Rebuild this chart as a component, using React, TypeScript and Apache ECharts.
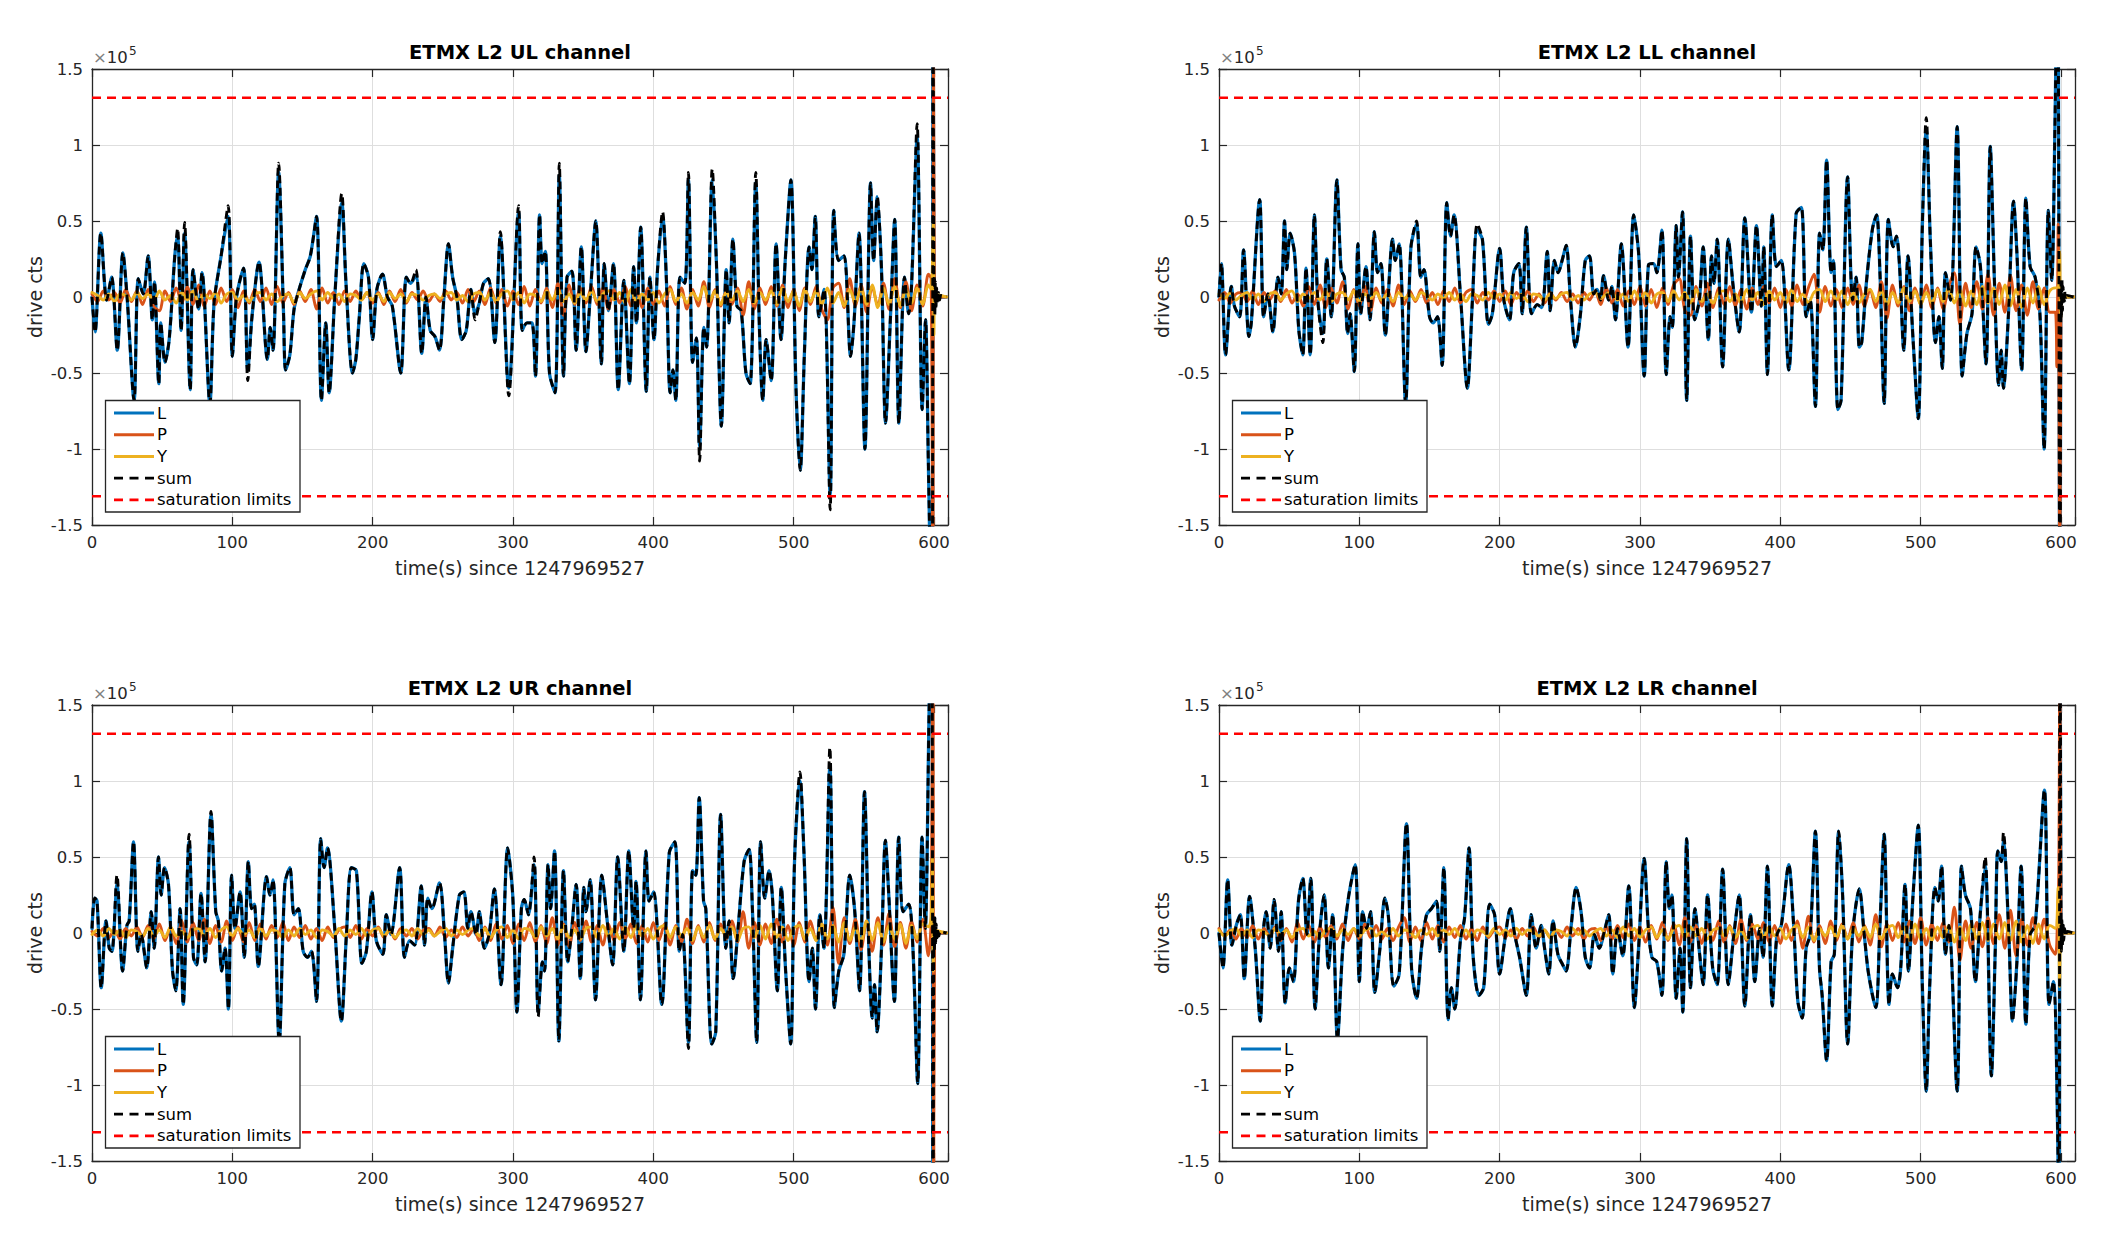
import { useEffect, useRef } from "react";
import * as echarts from "echarts";

// ETMX L2 drive per coil, values in units of 1e5 drive cts, time in s since 1247969527
const SAT = 1.31072; // saturation limit
const STEP = 4; // P and Y read every 4 s from t = 0
const X_MAX = 610;

// L at its turning points: [t, L, sum if it departs from L]
const ulL: number[][] = [
  [0, 0], [2.2, -0.23], [6.3, 0.42], [10.5, -0.02], [14, 0.13], [18, -0.35], [22, 0.29], [25, 0], [30, -0.68], [33, 0.12],
  [36.5, 0.02], [40, 0.27], [43, -0.15], [44.5, 0.1], [47.6, -0.57], [49, -0.17], [52, -0.43], [55, -0.28], [59, 0.27], [61, 0.4, 0.45],
  [63.5, -0.22], [66, 0.42, 0.49], [70, -0.61], [72, 0.18], [76, -0.08], [78.4, 0.16], [84, -0.7], [87, -0.04], [92, 0.27], [97, 0.53, 0.6],
  [100, -0.39], [103, 0], [108, 0.19], [111, -0.48, -0.55], [114, -0.13], [119, 0.23], [125, -0.41], [127, -0.2], [129, -0.35], [133, 0.82, 0.88],
  [136.5, -0.11], [138, -0.48], [141, -0.38], [144, -0.08], [147.6, 0.05], [152, 0.18], [155.6, 0.27], [160, 0.53], [163.5, -0.68], [166.6, -0.17],
  [169, -0.63], [173, 0], [178, 0.62, 0.68], [181, 0.09], [185.7, -0.5], [188, -0.41], [190.5, -0.13], [193.7, 0.22], [197, 0.13], [200, -0.28],
  [203, 0.05], [207, 0.15], [210.5, 0], [214, -0.06], [220, -0.5], [224, 0.13], [227, 0.09], [230.8, 0.14, 0.18], [235, -0.37], [238, 0],
  [241, -0.22], [244.4, -0.26], [247.6, -0.35], [250.8, 0], [254, 0.35], [257, 0.13], [260, 0], [263.5, -0.28], [266.7, -0.22], [270, 0.05],
  [273, -0.11, -0.15], [276, -0.04], [279, 0.09], [282.5, 0.12], [287, -0.3], [291, 0.4, 0.43], [297, -0.6, -0.65], [304, 0.56, 0.6], [306.6, -0.22], [310, -0.17],
  [313.5, -0.17], [316, -0.52], [319, 0.54], [320.8, 0.22], [323, 0.3], [326, -0.5], [330, -0.63], [333, 0.8, 0.88], [336, -0.52], [338.5, 0.13],
  [342, 0.17], [345, -0.35], [348.7, 0.33], [352, -0.36], [355, 0], [359, 0.5], [363, -0.44], [365, 0.22], [368, -0.09], [371.6, 0.22],
  [375, -0.61], [379, 0.11], [383, -0.57], [386, 0.2], [388, -0.17], [391, 0.46], [395, -0.62], [397.6, 0.13], [400.5, -0.28], [403, 0.18],
  [406.6, 0.53, 0.56], [409.5, 0.07], [412, -0.63], [414, -0.48], [416, -0.68], [419, 0.13], [422.5, 0.09], [425, 0.77, 0.82], [428, -0.43], [430.7, -0.27],
  [433, -0.98, -1.08], [436, -0.2], [438, -0.33], [442, 0.77, 0.84], [445, 0.22], [448.5, -0.85], [452, 0.18], [454, -0.17], [456.7, 0.38], [459.6, -0.06],
  [462.6, -0.09], [466, -0.5], [469, -0.57], [473, 0.75, 0.82], [475.6, -0.2], [478, -0.68], [480.4, -0.28], [484, -0.55], [487.5, 0.35], [491, -0.28],
  [494, 0.24], [498, 0.77], [501.7, -0.61], [504.7, -1.14], [507.6, -0.39], [511, 0.33], [513, 0.18], [515.4, 0.53], [518, -0.13], [521.7, 0.05],
  [526, -1.3, -1.4], [528.6, 0.57], [532, 0.24], [535.9, 0.27], [540.6, -0.39], [543, -0.17], [546.6, 0.42], [550.8, -1.0], [554.8, 0.75], [557, 0.24],
  [559.6, 0.66], [562.6, 0.18], [565.5, -0.83], [569, -0.13], [572, 0.51], [575, -0.83], [579, 0.13], [582, -0.11], [584, 0.07], [588, 1.05, 1.14],
  [591.6, -0.74], [594, -0.15], [596, -1.09], [598.6, -2.4], [599.3, 2.4], [600, 0.02, 0.1],
  [600.3, 0, 0.14], [600.6, 0, -0.12], [601, 0, 0.1], [601.4, 0, -0.08], [601.9, 0, 0.06], [602.5, 0, -0.04], [603.2, 0, 0.03], [604, 0, -0.02], [605, 0, 0.01], [609, 0],
];

const llL: number[][] = [
  [0, 0], [1.7, 0.22], [4.7, -0.38], [8.8, 0.07], [11, -0.06], [14.7, -0.13], [17.5, 0.31], [21.3, -0.26], [23, -0.17], [29, 0.64],
  [31.8, -0.13], [34.8, 0.02], [38.4, -0.23], [42, 0.13], [44.3, 0.02], [46.7, 0.5], [48.3, 0.18], [50.7, 0.42], [53.8, 0.29], [56.9, -0.22],
  [59.7, -0.38], [62, 0.19], [65, -0.38], [68, 0.54], [70.4, -0.02], [74, -0.24, -0.3], [76.8, 0.25], [80, -0.13], [84, 0.77], [87, 0.18],
  [89.3, 0.13], [91.7, -0.24], [93.4, -0.11], [96.4, -0.49], [99, 0.35], [101, -0.11], [104.7, 0.2], [107.6, -0.15], [110.7, 0.43], [113, 0.16],
  [115.4, 0.22], [118.5, -0.25], [123.7, 0.38], [125.6, 0.24], [128.4, 0.35], [133, -0.7], [136.7, 0.32], [140.8, 0.48, 0.5], [143.8, 0.13], [146, 0.18],
  [150, -0.13], [152.6, -0.17], [155.7, -0.13], [159, -0.45], [162.3, 0.62], [165, 0.4], [167.5, 0.54], [172, 0.02], [177, -0.6], [180.6, -0.02],
  [184, 0.44, 0.48], [187.7, 0.38], [192, -0.18], [194.8, -0.11], [200, 0.32], [203, -0.02], [207, -0.15], [210, 0.16], [213.7, 0.22], [216, -0.11],
  [219, 0.46], [222.7, -0.11], [226.8, -0.05], [230, -0.07], [233.9, 0.3], [236, -0.09], [239, 0.24], [241.7, 0.16], [244.5, 0.24], [247.4, 0.34],
  [250.5, -0.02], [254, -0.33], [257.6, -0.11], [261, 0.24], [264, 0.27], [267, 0.02], [269.4, 0.05], [271.8, -0.02], [274, 0.14], [277.7, -0.02],
  [280, 0.07], [282.5, -0.15], [286.7, 0.35], [291.5, -0.33], [295.5, 0.54], [299, 0.29], [303, -0.52], [306, 0.21], [309.7, 0.22], [312, 0.16],
  [315.6, 0.44], [318.7, -0.51], [321.5, -0.13], [323, -0.2], [325.8, 0.47], [327.4, 0.13], [330.3, 0.56], [333.3, -0.68], [336, 0.4], [339, -0.15],
  [342.3, -0.02], [345, 0.33], [348.7, -0.28], [351, 0.27], [352.7, 0.09], [355, 0.38], [358.9, -0.46], [363, 0.38], [366.4, 0.07], [370.7, -0.23],
  [374.7, 0.52], [379.4, -0.1], [383, 0.47], [386.5, -0.06], [388.2, 0.33], [390.8, -0.51], [394.3, 0.54], [397.2, 0.2], [400.7, 0.24], [406, -0.48],
  [411.3, 0.55], [415, 0.59], [418.4, -0.13], [421.3, -0.02], [425, -0.72], [428, 0.42], [430.3, 0.31], [433, 0.9], [436.2, 0.16], [437.8, 0.24],
  [441, -0.74], [443.3, -0.68], [448, 0.79], [451.5, -0.02], [454, 0.13], [456.3, -0.33], [458, -0.3], [461.5, 0.11], [465.7, 0.45], [468.6, 0.54],
  [471, 0.16], [474, -0.7], [477, 0.51], [480.4, 0.33], [482.7, 0.4], [485, 0.2], [488, -0.35], [491, 0.27], [494.6, -0.28], [498.3, -0.8],
  [501.2, 0.46], [504, 1.1, 1.18], [507, 0.35], [510.6, -0.3], [513, -0.13], [515.4, -0.47], [517.7, 0.16], [521.3, -0.02], [526, 1.12], [529.6, -0.52],
  [533, -0.24], [536.6, -0.11], [539.5, 0.33], [542.6, 0.2], [546.6, -0.44], [549.6, 0.99], [552.7, 0.07], [555.6, -0.58], [557.4, -0.35], [559, -0.6],
  [562.6, -0.11], [566.2, 0.63], [568.6, 0.29], [572, -0.48], [575, 0.65], [578, 0.2], [581.6, 0.13], [585, -0.11], [588, -1.0], [591, 0.57],
  [593.4, 0.11], [595.7, 1.12], [597.6, 2.4], [599.3, -2.4], [600, 0.02, 0.1],
  [600.3, 0, -0.13], [600.7, 0, 0.11], [601.1, 0, -0.09], [601.5, 0, 0.07], [602, 0, -0.05], [602.6, 0, 0.04], [603.3, 0, -0.02], [604.2, 0, 0.01], [609, 0],
];

const urL: number[][] = [
  [0, 0.03], [1.9, 0.23], [3.6, 0.21], [6.6, -0.36], [10, 0.08], [12.3, -0.1], [14.2, -0.12], [17.8, 0.32, 0.38], [21.8, -0.25], [24.9, 0.05],
  [26.5, 0.08], [29.6, 0.6], [32.7, -0.12], [35, -0.01], [39, -0.23], [42.2, 0.14], [44.3, -0.1], [47.4, 0.5], [49.3, 0.25], [51.7, 0.43],
  [54.5, 0.32], [57.3, -0.24], [59.7, -0.38], [62.8, 0.16], [65, -0.47], [69.2, 0.6, 0.65], [72.3, -0.16], [74.6, -0.21], [77.7, 0.26], [80.6, -0.19],
  [84.8, 0.78, 0.8], [88.2, 0.14], [90, 0.08], [92.4, -0.25], [94.8, -0.1], [97.2, -0.5], [99.5, 0.38], [101.9, 0.03], [105.5, 0.27], [108.5, -0.16],
  [111.4, 0.47], [113.7, 0.16], [115.6, 0.19], [118.5, -0.22], [124.4, 0.37], [126.8, 0.25], [129, 0.35], [133.4, -0.72], [137.4, 0.32], [141, 0.43],
  [144, 0.12], [147, 0.16], [150.5, -0.12], [153.6, -0.16], [156.4, -0.12], [160, -0.45], [163, 0.62], [165.4, 0.43], [167.8, 0.56], [173, 0.03],
  [177.7, -0.58], [181.3, -0.01], [184.8, 0.43], [188.4, 0.41], [192.4, -0.2], [195.5, -0.12], [199.5, 0.27], [202.6, -0.05], [207.3, -0.14], [209.7, 0.12],
  [213, -0.01], [219.2, 0.43], [222.7, -0.16], [226.3, -0.05], [229.9, -0.08], [234.6, 0.31], [237, -0.08], [239.3, 0.23], [242.2, 0.16], [247.6, 0.33],
  [251.2, -0.01], [254, -0.33], [257, -0.1], [261.8, 0.25], [265, 0.27], [267.8, 0.03], [270, 0.14], [273.7, -0.01], [276, 0.14], [279.6, -0.1],
  [283, -0.01], [286.7, 0.29], [291.5, -0.34], [296.2, 0.56], [299.8, 0.25], [302.8, -0.52], [306, 0.16], [308, 0.22], [311, 0.12], [315, 0.45, 0.5],
  [318, -0.52, -0.55], [321, -0.19], [322.5, -0.25], [325, 0.45], [326.8, 0.16], [329.6, 0.54], [332.7, -0.71], [336, 0.41], [339, -0.19], [341.5, -0.01],
  [345, 0.32], [348, -0.3], [350.5, 0.3], [352, 0.14], [355, 0.35], [358.8, -0.44], [363.3, 0.38], [367.5, 0.05], [371, -0.21], [374.6, 0.5],
  [379, -0.12], [382.5, 0.54], [386, 0.03], [387.7, 0.34], [390.8, -0.44], [394.8, 0.54], [397, 0.21], [400.2, 0.27], [406, -0.47], [411.4, 0.53],
  [415.4, 0.6], [418.5, -0.12], [420.8, -0.01], [425, -0.72, -0.76], [428, 0.41], [430.3, 0.38], [432.7, 0.89], [435.8, 0.21], [437.4, 0.16], [441.7, -0.73],
  [444.5, -0.65], [448, 0.78], [451.7, -0.1], [454, 0.08], [456.9, -0.3], [460.4, 0.03], [464.7, 0.47], [468.2, 0.55], [470.6, 0.16], [473.7, -0.72],
  [476.5, 0.6], [479.4, 0.23], [482.5, 0.41], [484.8, 0.25], [488.4, -0.38], [491.2, 0.3], [494.3, -0.25], [497.9, -0.73], [500.7, 0.49], [504.5, 1.0, 1.06],
  [507.3, 0.54], [511, -0.32], [513.3, -0.1], [515.6, -0.5], [518.7, 0.12], [521.6, -0.1], [525.8, 1.1, 1.22], [529, -0.49], [532.2, -0.25], [535.8, -0.14],
  [540, 0.38], [543.4, 0.16], [547, -0.38], [550.5, 0.93], [553.6, -0.1], [556, -0.56], [557.6, -0.34], [559.5, -0.65], [562.6, -0.1], [565.4, 0.61],
  [567.8, 0.25], [571.8, -0.45], [574.9, 0.63], [578, 0.14], [582, 0.19], [585, -0.1], [588.4, -0.99], [591.5, 0.63], [593.8, 0.03], [596.5, 1.45],
  [598.4, 2.4], [599.3, -2.4], [600, 0.02, 0.1],
  [600.3, 0, -0.12], [600.7, 0, 0.1], [601.1, 0, -0.08], [601.6, 0, 0.06], [602.1, 0, -0.05], [602.7, 0, 0.03], [603.5, 0, -0.02], [604.5, 0, 0.01], [609, 0],
];

const lrL: number[][] = [
  [0, 0], [2.8, -0.23], [6.2, 0.35], [9.2, -0.08], [12.3, 0.05], [15.2, 0.12], [18, -0.3], [21.8, 0.24], [25.8, -0.1], [29.4, -0.58],
  [31.8, 0.03], [33.6, 0.14], [36.5, -0.1], [39.3, 0.22], [42.4, -0.12], [44.3, 0.14], [47.2, -0.46], [50.2, -0.23], [53, -0.32], [56.6, 0.21],
  [59.7, 0.36], [62.6, -0.01], [65.4, 0.36], [68.5, -0.5], [71.6, -0.01], [74.9, 0.25], [78, -0.23], [81, 0.12], [84.4, -0.7], [88.2, -0.1],
  [92.2, 0.23], [97, 0.45], [100, -0.32], [102.4, 0.14], [105.2, 0.03], [108, 0.14], [111, -0.39], [114.7, -0.1], [118.2, 0.23], [120.6, 0.12],
  [124.6, -0.35], [128.4, -0.27], [133.6, 0.72], [137.2, -0.23], [140.8, -0.43], [144.3, -0.1], [147.9, 0.12], [151.4, 0.16], [155, 0.21], [157.3, -0.12],
  [160.2, 0.43], [163.3, -0.57], [165.6, -0.36], [168, -0.5], [172, -0.05], [175, 0.1], [178.2, 0.56], [181, -0.14], [185.3, -0.41], [188.6, -0.36],
  [192.9, 0.19], [196.4, 0.12], [200, -0.27], [203.6, -0.05], [207.6, 0.16], [210.7, -0.01], [214.2, -0.16], [219, -0.41], [222.5, 0.12], [226, -0.1],
  [229.6, 0.05], [232, -0.1], [235, -0.27], [238, 0.08], [241.5, -0.14], [245, -0.21], [247.4, -0.25], [251, 0.05], [254.5, 0.3], [258, 0.14],
  [261, -0.16], [264, -0.23], [267.5, -0.01], [271, -0.1], [274.6, 0.01], [277.7, 0.12], [280.6, -0.27], [284, 0.03], [287.7, -0.15], [292, 0.31],
  [296, -0.49], [299, -0.1], [303, 0.49], [306, 0.03], [308.5, -0.16], [312, -0.19], [315.6, -0.41], [318.7, 0.47], [321, 0.16], [322.7, 0.25],
  [325.8, -0.43], [328.6, -0.1], [330.5, -0.52], [333.3, 0.62], [336, -0.36], [339.2, 0.16], [342.3, -0.12], [345, -0.34], [348.2, 0.25], [351.8, -0.23],
  [355, -0.34], [358.9, 0.42], [362.9, -0.34], [366.9, -0.01], [370.7, 0.25], [374.7, -0.48], [378.7, 0.12], [381.8, -0.32], [385.3, 0.03], [387.7, -0.16],
  [390.8, 0.44], [394.3, -0.48], [397.6, -0.01], [400.7, 0.05], [406, 0.45], [409.5, 0.05], [412.5, -0.45], [415.6, -0.56], [418.4, -0.1], [421.3, -0.01],
  [425, 0.67], [427.9, -0.23], [429.8, -0.41], [433, -0.84], [436.2, -0.19], [438.5, -0.14], [441.6, 0.67], [444.4, 0.25], [448, -0.73], [451.5, -0.01],
  [456.3, 0.29], [459.8, -0.01], [462.9, -0.27], [468, -0.49], [470.9, 0.03], [474, 0.65], [477.5, -0.47], [479.9, -0.27], [483.5, -0.36], [485.8, -0.23],
  [488.9, 0.32], [491.3, -0.25], [494.6, 0.25], [498.3, 0.71], [501.2, -0.34], [504, -1.04], [506.4, -0.36], [510.2, 0.3], [512.5, 0.21], [514.9, 0.44],
  [517.7, -0.14], [520.1, 0.05], [526, -1.04], [529.1, 0.44], [531.9, 0.25], [535.5, 0.16], [539, -0.32], [542.6, 0.14], [546, 0.44, 0.5], [550.4, -0.94],
  [553.2, -0.1], [555, 0.54], [557.4, 0.47], [559, 0.6, 0.66], [562.6, 0.05], [565.5, -0.58], [568.6, -0.19], [571.6, 0.44], [575, -0.6], [578, -0.01],
  [581.6, 0.05], [588.2, 0.94], [591.5, -0.47], [594.6, -0.32], [597.6, -1.28], [598.6, -2.4], [599.3, 2.4], [600, 0.02, 0.1],
  [600.3, 0, -0.12], [600.6, 0, 0.1], [601, 0, -0.08], [601.5, 0, 0.07], [602, 0, -0.05], [602.6, 0, 0.03], [603.4, 0, -0.02], [604.4, 0, 0.01], [609, 0],
];

// P and Y, one value every STEP seconds from t = 0 to 596
const ulP = [
  0.02, -0.03, 0.04, -0.02, 0.03, -0.04, 0.05, -0.03, 0.04, -0.05,
  0.05, -0.06, -0.09, 0.04, -0.03, 0.06, -0.04, 0.07, -0.05, 0.08,
  -0.06, 0.04, -0.05, 0.06, -0.03, 0.05, -0.07, 0.04, -0.04, 0.05,
  -0.03, 0.06, -0.05, 0.07, -0.04, 0.03, -0.05, 0.04, -0.03, 0.05,
  -0.08, 0.06, -0.04, 0.03, -0.05, 0.04, -0.03, 0.04, -0.02, 0.03,
  -0.04, 0.03, -0.05, 0.04, -0.03, 0.05, -0.04, 0.03, -0.02, 0.04,
  -0.03, 0.02, -0.03, 0.04, -0.02, 0.03, -0.04, 0.05, -0.03, 0.04,
  -0.05, 0.06, -0.04, 0.05, -0.06, 0.04, -0.05, 0.07, -0.06, 0.05,
  -0.04, 0.06, -0.07, 0.09, -0.12, 0.08, -0.05, 0.06, -0.04, 0.07,
  -0.05, 0.06, -0.08, 0.05, -0.04, 0.07, -0.06, 0.05, -0.07, 0.06,
  -0.05, 0.04, -0.06, 0.07, -0.05, 0.06, -0.08, 0.05, -0.06, 0.1,
  -0.07, 0.05, -0.06, 0.04, -0.05, 0.06, -0.12, 0.1, -0.08, 0.06,
  -0.05, 0.07, -0.06, 0.08, -0.07, 0.05, -0.09, 0.06, -0.05, 0.07,
  -0.08, -0.15, 0.06, 0.09, -0.07, 0.12, -0.06, 0.08, -0.1, 0.07,
  -0.06, 0.09, -0.08, 0.12, -0.07, 0.1, -0.09, 0.08, -0.06, 0.15,
];
const ulY = [
  0.03, 0.01, -0.02, 0.02, -0.03, 0.02, 0.01, -0.02, 0.03, -0.01,
  0.02, -0.03, 0.04, -0.02, 0.01, -0.04, 0.03, -0.02, 0.04, -0.03,
  0.02, -0.01, 0.03, -0.04, 0.02, 0.03, -0.02, 0.01, -0.03, 0.02,
  0.03, -0.02, 0.02, -0.03, 0.01, 0.02, -0.04, 0.03, -0.01, 0.02,
  0.04, -0.02, 0.03, -0.01, 0.02, -0.03, 0.02, 0.01, -0.02, 0.03,
  -0.02, 0.02, -0.03, 0.03, -0.01, 0.02, -0.03, 0.02, 0.01, -0.02,
  0.01, 0.02, -0.01, 0.02, 0.03, -0.02, 0.01, -0.03, 0.02, 0.03,
  -0.02, 0.03, -0.03, 0.02, 0.04, -0.02, 0.03, -0.04, 0.02, 0.01,
  -0.03, 0.04, -0.02, 0.05, -0.03, 0.02, -0.04, 0.03, -0.02, 0.04,
  -0.03, 0.02, 0.04, -0.02, 0.03, -0.04, 0.05, -0.03, 0.02, -0.02,
  0.03, -0.04, 0.02, 0.05, -0.03, 0.02, -0.04, 0.03, -0.02, 0.07,
  -0.03, 0.04, -0.05, 0.03, -0.02, 0.04, -0.03, 0.05, -0.04, 0.03,
  -0.02, 0.04, -0.05, 0.06, -0.03, 0.04, -0.06, 0.05, -0.03, 0.04,
  -0.05, 0.06, -0.04, 0.03, -0.06, 0.05, -0.04, 0.06, -0.05, 0.08,
  -0.07, 0.06, -0.05, 0.07, -0.06, 0.05, -0.04, 0.06, -0.05, 0.08,
];
const ulPTail = [[598, 0.12], [599.2, -2.4], [599.7, 2.4], [600.3, 0], [609, 0]];
const ulYTail = [[598, 0.05], [599.5, 0.5], [600, -0.25], [600.6, 0.02], [609, 0]];

const llP = [
  -0.02, 0.03, -0.04, 0.02, 0.03, -0.03, 0.04, -0.05, 0.03, -0.02,
  0.04, -0.03, 0.05, -0.04, 0.02, -0.06, 0.07, -0.05, 0.08, -0.07,
  0.06, -0.04, 0.1, -0.08, 0.05, -0.06, 0.07, -0.09, 0.06, -0.04,
  0.05, -0.06, 0.08, -0.05, 0.04, -0.03, 0.05, -0.04, 0.03, -0.05,
  0.04, -0.03, 0.06, -0.04, 0.03, 0.05, -0.04, 0.03, -0.02, 0.04,
  -0.03, 0.04, -0.05, 0.03, -0.02, 0.04, -0.03, 0.02, -0.04, 0.03,
  -0.02, 0.03, -0.03, 0.02, -0.04, 0.03, -0.02, 0.04, -0.05, 0.06,
  -0.04, 0.05, -0.06, 0.04, -0.05, 0.07, -0.06, 0.05, -0.07, 0.06,
  -0.05, 0.08, 0.12, -0.09, -0.12, 0.07, -0.06, 0.09, -0.07, 0.06,
  -0.05, 0.07, -0.06, 0.05, -0.08, 0.06, -0.05, 0.07, -0.04, 0.06,
  -0.07, 0.05, -0.06, 0.08, -0.05, 0.06, 0.15, -0.1, 0.07, -0.06,
  0.05, -0.07, 0.06, -0.05, 0.08, -0.06, 0.05, -0.07, 0.1, -0.14,
  0.08, -0.06, 0.07, -0.09, 0.06, -0.05, 0.08, -0.07, 0.06, -0.08,
  0.07, 0.16, -0.18, 0.09, -0.07, 0.1, -0.08, 0.15, -0.12, 0.09,
  -0.1, 0.14, -0.09, 0.08, -0.12, 0.1, -0.08, 0.06, -0.1, -0.1,
];
const llY = [
  0.02, -0.01, 0.03, -0.02, 0.01, 0.03, -0.02, 0.02, -0.03, 0.02,
  0.03, -0.02, 0.02, 0.04, -0.03, 0.02, -0.01, 0.03, -0.02, 0.04,
  -0.03, 0.02, 0.03, -0.02, 0.04, -0.03, 0.02, -0.01, 0.03, -0.02,
  0.02, -0.03, 0.03, -0.01, 0.02, -0.02, 0.03, 0.01, -0.02, 0.02,
  -0.01, 0.03, -0.02, 0.02, -0.03, 0.02, 0.01, -0.02, 0.03, -0.01,
  0.02, -0.02, 0.03, -0.01, 0.02, -0.03, 0.02, 0.01, -0.02, 0.02,
  -0.01, 0.02, 0.03, -0.02, 0.01, -0.02, 0.02, 0.03, -0.01, 0.02,
  0.03, -0.02, 0.02, -0.03, 0.04, -0.02, 0.03, -0.04, 0.02, 0.03,
  -0.03, 0.04, -0.02, 0.03, -0.04, 0.05, -0.03, 0.02, -0.04, 0.03,
  0.04, -0.03, 0.02, -0.04, 0.05, -0.02, 0.03, -0.05, 0.04, -0.02,
  0.03, -0.04, 0.05, -0.03, 0.02, -0.04, 0.03, 0.05, -0.03, 0.04,
  -0.02, 0.04, -0.05, 0.03, -0.04, 0.02, 0.05, -0.03, 0.04, -0.05,
  0.03, -0.04, 0.06, -0.03, 0.04, -0.05, 0.03, -0.04, 0.05, -0.03,
  0.06, -0.04, 0.05, -0.06, 0.04, -0.05, 0.07, -0.04, 0.06, -0.05,
  0.08, -0.06, 0.05, -0.07, 0.06, -0.04, 0.07, -0.05, 0.04, 0.06,
];
const llPTail = [[597, -0.46], [598, 0.48], [599.3, -2.4], [600, 0], [609, 0]];
const llYTail = [[598, 0.06], [599, 0.3], [599.8, -0.15], [600.5, 0], [609, 0]];

const urP = [
  0.01, -0.02, 0.03, -0.03, 0.02, -0.04, 0.03, -0.02, 0.04, -0.03,
  0.05, -0.04, 0.06, -0.05, 0.04, -0.07, 0.08, -0.06, 0.07, -0.05,
  0.09, -0.07, 0.05, -0.06, 0.08, -0.05, 0.04, -0.06, 0.07, -0.05,
  0.06, -0.04, 0.05, -0.03, 0.07, -0.05, 0.04, -0.03, 0.05, -0.04,
  0.03, -0.05, 0.04, -0.03, 0.02, 0.04, -0.03, 0.05, -0.04, 0.03,
  -0.02, 0.04, -0.03, 0.02, -0.04, 0.03, -0.02, 0.03, -0.04, 0.02,
  0.03, -0.02, 0.04, -0.03, 0.02, -0.03, 0.04, -0.02, 0.03, -0.05,
  0.04, -0.05, 0.06, -0.04, 0.05, -0.07, 0.06, -0.05, 0.07, -0.06,
  0.05, -0.07, 0.1, -0.08, 0.06, -0.09, 0.07, -0.05, 0.08, -0.06,
  0.05, -0.08, 0.06, -0.05, 0.07, -0.04, 0.06, -0.07, 0.05, -0.06,
  0.07, -0.05, 0.06, -0.08, 0.05, -0.06, 0.09, -0.07, 0.05, -0.06,
  0.07, -0.05, 0.06, -0.04, 0.08, -0.06, 0.14, -0.1, 0.07, -0.08,
  0.06, -0.07, 0.09, -0.06, 0.05, -0.08, 0.07, -0.06, 0.08, -0.05,
  0.06, -0.08, 0.17, -0.2, 0.1, -0.07, 0.09, -0.11, 0.08, -0.12,
  0.1, -0.08, 0.13, -0.09, 0.07, -0.1, 0.08, -0.06, 0.09, -0.15,
];
const urY = [
  -0.01, 0.02, -0.02, 0.03, -0.01, 0.02, -0.03, 0.02, 0.01, -0.02,
  0.03, -0.02, 0.02, -0.03, 0.04, -0.02, 0.01, -0.03, 0.02, 0.03,
  -0.02, 0.03, -0.03, 0.02, 0.04, -0.02, 0.03, -0.01, 0.02, -0.03,
  0.03, -0.02, 0.02, 0.01, -0.03, 0.02, -0.02, 0.03, -0.01, 0.02,
  -0.03, 0.02, 0.01, -0.02, 0.03, -0.02, 0.02, -0.01, 0.03, -0.02,
  0.02, 0.03, -0.02, 0.02, -0.03, 0.01, 0.02, -0.02, 0.03, -0.01,
  0.02, -0.02, 0.01, 0.03, -0.02, 0.02, -0.01, 0.02, 0.03, -0.02,
  0.03, -0.03, 0.02, 0.04, -0.03, 0.02, -0.04, 0.03, 0.02, -0.03,
  0.04, -0.02, 0.03, -0.04, 0.05, -0.03, 0.02, -0.04, 0.03, 0.04,
  -0.03, 0.05, -0.02, 0.03, -0.04, 0.04, -0.03, 0.05, -0.02, 0.03,
  -0.04, 0.03, 0.05, -0.03, 0.04, -0.02, 0.03, -0.05, 0.04, -0.03,
  0.05, -0.04, 0.03, -0.02, 0.04, -0.05, 0.03, 0.04, -0.03, 0.05,
  -0.04, 0.06, -0.03, 0.04, -0.05, 0.03, 0.05, -0.04, 0.03, -0.05,
  0.06, -0.04, 0.05, -0.06, 0.07, -0.05, 0.04, -0.06, 0.08, -0.05,
  0.07, -0.06, 0.05, -0.04, 0.06, -0.07, 0.05, -0.04, 0.06, 0.04,
];
const urPTail = [[598, 0.1], [599.2, 2.4], [599.8, -2.4], [600.4, 0], [609, 0]];
const urYTail = [[598, 0.1], [598.8, 0.5], [599.5, -0.25], [600.2, 0.02], [609, 0]];

const lrP = [
  0.03, -0.02, 0.02, -0.04, 0.03, -0.03, 0.05, -0.04, 0.03, -0.02,
  0.04, -0.05, 0.03, -0.06, 0.07, -0.04, 0.05, -0.06, 0.04, -0.03,
  0.05, -0.04, 0.06, -0.05, 0.03, -0.04, 0.06, -0.03, 0.05, -0.04,
  0.03, -0.05, 0.04, 0.1, -0.06, 0.04, -0.05, 0.07, -0.04, 0.05,
  -0.06, 0.04, -0.03, 0.05, -0.04, 0.03, -0.05, 0.04, -0.03, 0.02,
  0.04, -0.03, 0.02, -0.04, 0.03, -0.02, 0.04, -0.03, 0.02, -0.03,
  0.02, -0.03, 0.04, -0.02, 0.03, -0.04, 0.02, 0.03, -0.05, 0.04,
  -0.04, 0.05, -0.03, 0.06, -0.05, 0.04, -0.06, 0.05, -0.04, 0.07,
  -0.05, 0.06, -0.08, 0.1, -0.06, 0.05, -0.07, 0.06, -0.05, 0.08,
  -0.06, 0.05, -0.07, 0.09, -0.05, 0.06, -0.04, 0.07, -0.06, 0.05,
  -0.07, 0.06, -0.05, 0.08, -0.1, 0.11, -0.06, 0.05, -0.07, 0.08,
  -0.05, 0.06, -0.04, 0.07, -0.06, 0.05, -0.08, 0.12, -0.09, 0.06,
  -0.05, 0.07, -0.06, 0.08, -0.07, 0.1, -0.08, 0.06, -0.05, 0.07,
  -0.06, 0.17, -0.18, 0.08, -0.1, 0.07, -0.09, 0.1, -0.07, 0.12,
  -0.1, 0.15, -0.15, 0.09, -0.08, 0.1, -0.07, 0.09, -0.08, -0.14,
];
const lrY = [
  0.02, -0.02, 0.01, 0.03, -0.02, 0.02, -0.03, 0.02, 0.01, -0.02,
  0.03, -0.01, 0.02, -0.03, 0.02, 0.03, -0.02, 0.01, -0.03, 0.02,
  0.03, -0.02, 0.02, -0.01, 0.03, -0.02, 0.02, 0.03, -0.02, 0.01,
  -0.02, 0.03, -0.02, 0.02, 0.01, -0.03, 0.02, -0.01, 0.03, -0.02,
  0.02, -0.01, 0.03, -0.02, 0.02, -0.03, 0.02, 0.01, -0.02, 0.03,
  -0.01, 0.02, -0.02, 0.03, -0.01, 0.02, 0.01, -0.02, 0.02, -0.03,
  0.02, 0.01, -0.02, 0.03, -0.01, 0.02, -0.02, 0.01, 0.03, -0.02,
  0.02, -0.03, 0.04, -0.02, 0.03, -0.03, 0.02, 0.04, -0.03, 0.02,
  -0.04, 0.03, 0.05, -0.03, 0.04, -0.02, 0.03, -0.04, 0.02, 0.03,
  -0.02, 0.04, -0.03, 0.02, -0.04, 0.03, 0.05, -0.03, 0.04, -0.02,
  0.03, -0.04, 0.02, 0.05, -0.03, 0.04, -0.05, 0.03, -0.02, 0.04,
  -0.03, 0.05, -0.04, 0.03, -0.02, 0.04, -0.03, 0.06, -0.04, 0.03,
  0.05, -0.03, 0.04, -0.05, 0.06, -0.04, 0.03, -0.05, 0.04, -0.03,
  0.05, -0.06, 0.04, -0.05, 0.06, -0.04, 0.07, -0.05, 0.06, -0.04,
  0.07, -0.05, 0.08, -0.06, 0.05, -0.07, 0.06, -0.04, 0.05, 0.03,
];
const lrPTail = [[597.5, 0.1], [598.5, 0.42], [599.3, 2.4], [600, 0], [609, 0]];
const lrYTail = [[598, 0.3], [599, -0.35], [599.8, 0.05], [600.5, 0], [609, 0]];

const LEGEND_LABELS = ["L", "P", "Y", "sum", "saturation limits"];
const C_L = "#0072BD";
const C_P = "#D95319";
const C_Y = "#EDB120";
const C_SUM = "#000000";
const C_SAT = "#FF0000";

const GRID_W = 856;
const GRID_H = 456;
const FONT = '"DejaVu Sans", sans-serif';
const AX = "#262626";

const panels = [
  { title: "ETMX L2 UL channel", left: 92, top: 69, L: ulL, P: ulP, Y: ulY, pTail: ulPTail, yTail: ulYTail },
  { title: "ETMX L2 LL channel", left: 1219, top: 69, L: llL, P: llP, Y: llY, pTail: llPTail, yTail: llYTail },
  { title: "ETMX L2 UR channel", left: 92, top: 705, L: urL, P: urP, Y: urY, pTail: urPTail, yTail: urYTail },
  { title: "ETMX L2 LR channel", left: 1219, top: 705, L: lrL, P: lrP, Y: lrY, pTail: lrPTail, yTail: lrYTail },
];

function line(name: string, data: number[][], color: string, width: number, idx: number, dash?: number[], smooth = 0.3) {
  return {
    name,
    type: "line",
    xAxisIndex: idx * 2,
    yAxisIndex: idx * 2,
    data,
    symbol: "none",
    showSymbol: false,
    smooth,
    clip: true,
    silent: true,
    animation: false,
    emphasis: { disabled: true },
    lineStyle: { color, width, type: dash ?? "solid", join: "round", cap: dash ? "butt" : "round" },
  };
}

function buildOption() {
  const grid: any[] = [];
  const xAxis: any[] = [];
  const yAxis: any[] = [];
  const series: any[] = [];
  const graphic: any[] = [];

  panels.forEach((p, i) => {
    grid.push({ left: p.left, top: p.top, width: GRID_W, height: GRID_H, containLabel: false });
    const xBase = {
      type: "value", gridIndex: i, min: 0, max: X_MAX, interval: 100,
      axisLine: { show: true, onZero: false, lineStyle: { color: AX, width: 1.3 } },
      axisTick: { show: true, inside: true, length: 8, lineStyle: { color: AX, width: 1.2 } },
    };
    xAxis.push({
      ...xBase, position: "bottom",
      axisLabel: {
        color: AX, fontSize: 16.5, fontFamily: FONT, margin: 9,
        formatter: (v: number) => (v % 100 === 0 ? String(v) : ""),
      },
      splitLine: { show: true, lineStyle: { color: "#dedede", width: 1 } },
    });
    xAxis.push({ ...xBase, position: "top", axisLabel: { show: false }, splitLine: { show: false } });
    const yBase = {
      type: "value", gridIndex: i, min: -1.5, max: 1.5, interval: 0.5,
      axisLine: { show: true, onZero: false, lineStyle: { color: AX, width: 1.3 } },
      axisTick: { show: true, inside: true, length: 8, lineStyle: { color: AX, width: 1.2 } },
    };
    yAxis.push({
      ...yBase, position: "left",
      axisLabel: { color: AX, fontSize: 16.5, fontFamily: FONT, margin: 9 },
      splitLine: { show: true, lineStyle: { color: "#dedede", width: 1 } },
    });
    yAxis.push({ ...yBase, position: "right", axisLabel: { show: false }, splitLine: { show: false } });

    const lData = p.L.map((r) => [r[0], r[1]]);
    const sumData = p.L.map((r) => [r[0], r.length > 2 ? r[2] : r[1]]);
    const pData = p.P.map((v, k) => [k * STEP, v]).concat(p.pTail);
    const yData = p.Y.map((v, k) => [k * STEP, v]).concat(p.yTail);

    series.push(line("L", lData, C_L, 3.3, i));
    series.push(line("P", pData, C_P, 2.9, i));
    series.push(line("Y", yData, C_Y, 2.9, i));
    series.push(line("sum", sumData, C_SUM, 2.9, i, [8, 4.5]));
    series.push(line("saturation limits", [[0, SAT], [X_MAX, SAT]], C_SAT, 2.7, i, [9, 6], 0));
    series.push(line("saturation limits", [[0, -SAT], [X_MAX, -SAT]], C_SAT, 2.7, i, [9, 6], 0));

    const cx = p.left + GRID_W / 2;
    graphic.push({
      type: "text", x: cx, y: p.top - 16.5, silent: true, z: 100,
      style: { text: p.title, fontSize: 19.5, fontWeight: "bold", fontFamily: FONT, fill: "#000", align: "center", verticalAlign: "middle" },
    });
    graphic.push({
      type: "text", x: cx, y: p.top + 499, silent: true, z: 100,
      style: { text: "time(s) since 1247969527", fontSize: 19, fontFamily: FONT, fill: AX, align: "center", verticalAlign: "middle" },
    });
    graphic.push({
      type: "text", x: p.left - 57, y: p.top + GRID_H / 2, rotation: Math.PI / 2, silent: true, z: 100,
      style: { text: "drive cts", fontSize: 19, fontFamily: FONT, fill: AX, align: "center", verticalAlign: "middle" },
    });
    graphic.push({
      type: "text", x: p.left + 1, y: p.top - 11.5, silent: true, z: 100,
      style: {
        text: "{x|×}10", fontSize: 16.5, fontFamily: FONT, fill: AX, align: "left", verticalAlign: "middle",
        rich: { x: { fill: "#808080", fontSize: 16.5, fontFamily: FONT } },
      },
    });
    graphic.push({
      type: "text", x: p.left + 37, y: p.top - 18.5, silent: true, z: 100,
      style: { text: "5", fontSize: 12, fontFamily: FONT, fill: AX, align: "left", verticalAlign: "middle" },
    });

    const legendItems = [
      { color: C_L, width: 3, dash: null as number[] | null },
      { color: C_P, width: 3, dash: null },
      { color: C_Y, width: 3, dash: null },
      { color: C_SUM, width: 2.7, dash: [9, 6.5] },
      { color: C_SAT, width: 2.7, dash: [9, 6.5] },
    ];
    const children: any[] = [
      { type: "rect", z: 100, shape: { x: 0, y: 0, width: 194.5, height: 111.5 }, style: { fill: "#fff", stroke: AX, lineWidth: 1.3 } },
    ];
    legendItems.forEach((it, k) => {
      const y = 12.6 + k * 21.7;
      children.push({
        type: "line", z: 101, shape: { x1: 8.5, y1: y, x2: 48.5, y2: y },
        style: { stroke: it.color, lineWidth: it.width, lineDash: it.dash ?? undefined },
      });
      children.push({
        type: "text", z: 101, x: 51.5, y,
        style: { text: LEGEND_LABELS[k], fontSize: 16.5, fontFamily: FONT, fill: "#000", align: "left", verticalAlign: "middle" },
      });
    });
    graphic.push({ type: "group", x: p.left + 13.5, y: p.top + 331.5, z: 100, silent: true, children });
  });

  return {
    animation: false,
    backgroundColor: "#ffffff",
    textStyle: { fontFamily: FONT },
    grid,
    xAxis,
    yAxis,
    series,
    graphic,
  };
}

export default function App() {
  const ref = useRef<HTMLDivElement>(null);

  useEffect(() => {
    if (!ref.current) return;
    const chart = echarts.init(ref.current, undefined, { renderer: "svg" });
    chart.setOption(buildOption() as any);
    return () => chart.dispose();
  }, []);

  return (
    <div
      ref={ref}
      style={{ position: "fixed", left: 0, top: 0, width: 2109, height: 1251, background: "#fff" }}
    />
  );
}
